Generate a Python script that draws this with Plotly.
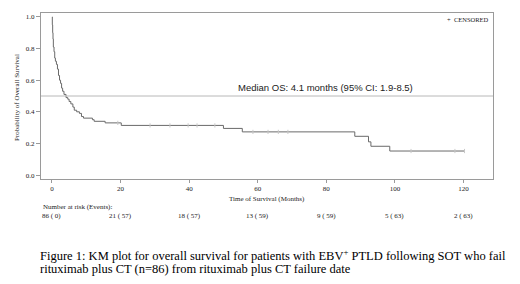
import plotly.graph_objects as go

# KM step curve (time in months, survival probability)
km_time = [0, 0.1, 0.2, 0.3, 0.4, 0.6, 0.8, 1.0, 1.3, 1.6, 1.9, 2.2, 2.5, 2.8, 3.1, 3.5,
           4.1, 4.6, 5.0, 5.5, 6.1, 6.5, 7.2, 8.0, 8.6, 9.2, 11.8, 12.3, 15.5, 20.2,
           50.0, 55.5, 88.3, 92.3, 93.0, 98.5, 120.3]
km_surv = [1.0, 0.95, 0.90, 0.86, 0.81, 0.78, 0.74, 0.72, 0.70, 0.67, 0.63, 0.60, 0.58, 0.55, 0.53, 0.51,
           0.49, 0.48, 0.465, 0.45, 0.43, 0.41, 0.40, 0.39, 0.37, 0.36, 0.35, 0.34, 0.33, 0.314,
           0.295, 0.273, 0.245, 0.21, 0.182, 0.152, 0.152]

cens_time = [19.2, 28.6, 34.4, 39.7, 42.3, 47.5, 58.6, 63.0, 66.0, 68.8, 104.7, 117.5, 120.3]
cens_surv = [0.33, 0.314, 0.314, 0.314, 0.314, 0.314, 0.273, 0.273, 0.273, 0.273, 0.152, 0.152, 0.152]

risk_time = [0, 20, 40, 60, 80, 100, 120]
risk_labels = ["86 ( 0)", "21 ( 57)", "18 ( 57)", "13 ( 59)", "9 ( 59)", "5 ( 63)", "2 ( 63)"]

x_ticks = [0, 20, 40, 60, 80, 100, 120]
y_ticks = [0.0, 0.2, 0.4, 0.6, 0.8, 1.0]

median_label = "Median OS: 4.1 months (95% CI: 1.9-8.5)"

SERIF = "Liberation Serif"
SANS = "Liberation Sans"

# page body has an 8px default margin: compensate so the figure lands where the reference is
OFF = 8
W, H = 520 - OFF, 284 - OFF
L, T, R, B = 41 - OFF, 13 - OFF, 27, 105
PH = H - T - B  # plot height in px
PW = W - L - R


def py(pix):
    """reference pixel y -> paper y"""
    return (T + OFF + PH - pix) / PH


def px(pix):
    """reference pixel x -> paper x"""
    return (pix - (L + OFF)) / PW


fig = go.Figure()
fig.add_trace(go.Scatter(x=km_time, y=km_surv, mode="lines", line=dict(shape="hv", color="#6a6a6a", width=1),
                         showlegend=False, hoverinfo="skip"))
fig.add_trace(go.Scatter(x=cens_time, y=cens_surv, mode="markers",
                         marker=dict(symbol="line-ns", size=3, line=dict(color="#c8c8c8", width=1)),
                         showlegend=False, hoverinfo="skip"))

fig.add_shape(type="line", xref="paper", x0=0, x1=1, yref="y", y0=0.5, y1=0.5,
              line=dict(color="#b8b8b8", width=1))

fig.update_layout(
    width=W, height=H,
    margin=dict(l=L, r=R, t=T, b=B, pad=0),
    paper_bgcolor="white", plot_bgcolor="white",
    xaxis=dict(range=[-3.2, 128.6], tickvals=x_ticks, ticktext=[str(v) for v in x_ticks],
               showgrid=False, zeroline=False, showline=True, linecolor="#9a9a9a", linewidth=1,
               mirror=True, ticks="outside", ticklen=3, tickcolor="#9a9a9a",
               tickfont=dict(family=SERIF, size=7, color="#222")),
    yaxis=dict(range=[-0.025, 1.025], tickvals=y_ticks, ticktext=[f"{v:.1f}" for v in y_ticks],
               showgrid=False, zeroline=False, showline=True, linecolor="#9a9a9a", linewidth=1,
               mirror=True, ticks="outside", ticklen=4, tickcolor="#9a9a9a",
               tickfont=dict(family=SERIF, size=7, color="#222")),
)

ann = []
ann.append(dict(text=median_label, xref="x", yref="y", x=79.8, y=0.5, xanchor="center", yanchor="bottom",
                yshift=1, showarrow=False, font=dict(family=SANS, size=9.5, color="#222")))
ann.append(dict(text="+  CENSORED", xref="paper", yref="paper", x=px(491), y=py(19), xanchor="right",
                yanchor="middle", showarrow=False, font=dict(family=SERIF, size=6.5, color="#222")))
ann.append(dict(text="Probability of Overall Survival", xref="paper", yref="paper", x=px(17), y=py(98),
                xanchor="center", yanchor="middle", textangle=-90, showarrow=False,
                font=dict(family=SERIF, size=7, color="#222")))
ann.append(dict(text="Time of Survival (Months)", xref="paper", yref="paper", x=px(267), y=py(199),
                xanchor="center", yanchor="middle", showarrow=False,
                font=dict(family=SERIF, size=7, color="#222")))
ann.append(dict(text="Number at risk (Events):", xref="paper", yref="paper", x=px(41), y=py(207),
                xanchor="left", yanchor="middle", showarrow=False,
                font=dict(family=SERIF, size=7, color="#222")))
for t, lab in zip(risk_time, risk_labels):
    ann.append(dict(text=lab, xref="x", yref="paper", x=t, y=py(216), xanchor="center", yanchor="middle",
                    showarrow=False, font=dict(family=SERIF, size=7, color="#222")))
ann.append(dict(text="Figure 1: KM plot for overall survival for patients with EBV<sup>+</sup> PTLD following SOT who fail",
                xref="paper", yref="paper", x=px(38), y=py(255), xanchor="left", yanchor="middle",
                showarrow=False, font=dict(family=SERIF, size=12.5, color="#000")))
ann.append(dict(text="rituximab plus CT (n=86) from rituximab plus CT failure date",
                xref="paper", yref="paper", x=px(38), y=py(268.5), xanchor="left", yanchor="middle",
                showarrow=False, font=dict(family=SERIF, size=12.5, color="#000")))
fig.update_layout(annotations=ann)

fig.write_html("out.html")
